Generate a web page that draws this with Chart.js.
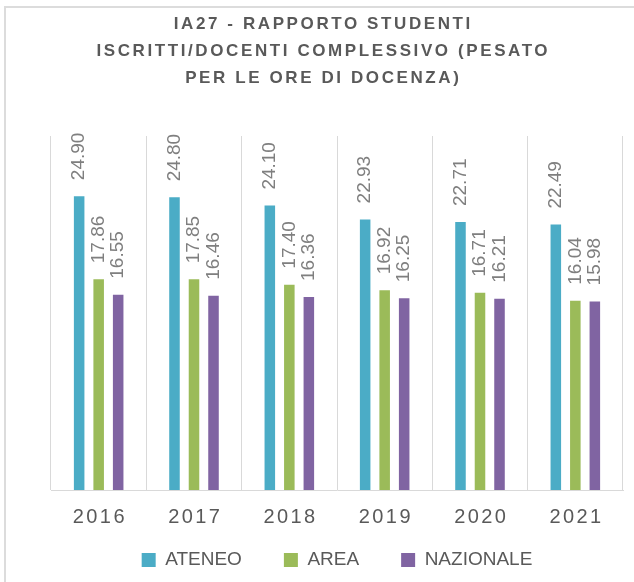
<!DOCTYPE html>
<html><head><meta charset="utf-8">
<script src="https://cdn.jsdelivr.net/npm/chart.js@4.4.0/dist/chart.umd.min.js"></script>
<style>
html,body{margin:0;padding:0;background:#fff;overflow:hidden;}
#wrap{position:relative;width:634px;height:582px;}
#frame{position:absolute;left:4px;top:6px;width:700px;height:700px;border-left:2px solid #dcdcdc;border-top:2px solid #dcdcdc;pointer-events:none;}
</style></head><body>
<div id="wrap"><canvas id="c" width="634" height="582"></canvas><div id="frame"></div></div>
<script>
const categories = ['2016', '2017', '2018', '2019', '2020', '2021'];
const seriesNames = ['ATENEO', 'AREA', 'NAZIONALE'];
const ateneo = [24.90, 24.80, 24.10, 22.93, 22.71, 22.49];
const area = [17.86, 17.85, 17.40, 16.92, 16.71, 16.04];
const nazionale = [16.55, 16.46, 16.36, 16.25, 16.21, 15.98];
const titleLines = ['IA27 - RAPPORTO STUDENTI', 'ISCRITTI/DOCENTI COMPLESSIVO (PESATO', 'PER LE ORE DI DOCENZA)'];
const yMin = 0, yMax = 30;

const colors = ['#4BACC6', '#9BBB59', '#8064A2'];
const FONT = '"Liberation Sans", Arial, sans-serif';

function patchSpacing(obj, m, ls) {
  if (!obj || obj['__p_' + m]) return;
  const orig = obj[m];
  obj[m] = function (...a) {
    const c = this.ctx;
    c.save();
    c.letterSpacing = ls + 'px';
    c.translate(ls / 2, 0);
    const r = orig.apply(this, a);
    c.restore();
    return r;
  };
  obj['__p_' + m] = true;
}

const spacingPlugin = {
  id: 'spacing',
  beforeDraw(chart) {
    patchSpacing(chart.titleBlock, 'draw', 2.6);
    patchSpacing(chart.scales.x, 'drawLabels', 2.4);
  }
};

const LEGEND_BAND = 38;   // vertical room kept for the legend under the axis
const LEGEND_CENTER_Y = 560;

const legendPlace = {
  id: 'legendPlace',
  beforeLayout(chart) {
    const lg = chart.legend;
    if (lg && !lg.__fitPatched) {
      const f = lg.fit;
      lg.fit = function () { f.call(this); this.height = LEGEND_BAND; };
      lg.__fitPatched = true;
    }
  },
  afterLayout(chart) {
    const lg = chart.legend, ca = chart.chartArea;
    if (!lg) return;
    const P = lg.options.labels.padding;
    const fs = lg.options.labels.font.size;
    lg.left = ca.left; lg.right = ca.right; lg.width = ca.right - ca.left;
    lg.top = LEGEND_CENTER_Y - P - fs / 2;
    lg.bottom = chart.height;
    lg.height = lg.bottom - lg.top;
  }
};

const valueLabels = {
  id: 'valueLabels',
  afterDatasetsDraw(chart) {
    const ctx = chart.ctx;
    chart.data.datasets.forEach((ds, i) => {
      const meta = chart.getDatasetMeta(i);
      meta.data.forEach((el, j) => {
        ctx.save();
        ctx.translate(el.x, el.y - 16);
        ctx.rotate(-Math.PI / 2);
        ctx.font = '19px ' + FONT;
        ctx.fillStyle = '#7f7f7f';
        ctx.textAlign = 'left';
        ctx.textBaseline = 'middle';
        ctx.fillText(ds.data[j].toFixed(2), 0, 0);
        ctx.restore();
      });
    });
  }
};

new Chart(document.getElementById('c'), {
  type: 'bar',
  data: {
    labels: categories,
    datasets: [
      { label: seriesNames[0], data: ateneo, backgroundColor: colors[0], borderWidth: 0 },
      { label: seriesNames[1], data: area, backgroundColor: colors[1], borderWidth: 0 },
      { label: seriesNames[2], data: nazionale, backgroundColor: colors[2], borderWidth: 0 }
    ]
  },
  options: {
    responsive: false,
    animation: false,
    devicePixelRatio: 1,
    datasets: { bar: { categoryPercentage: 0.614, barPercentage: 0.54 } },
    layout: { padding: { left: 10, right: 0, top: 0, bottom: 0 } },
    plugins: {
      title: {
        display: true,
        text: titleLines,
        color: '#595959',
        font: { family: FONT, size: 17, weight: 'bold', lineHeight: 27 / 17 },
        padding: { top: 11, bottom: 44 }
      },
      legend: {
        display: true,
        position: 'bottom',
        labels: {
          color: '#595959',
          font: { family: FONT, size: 19 },
          boxWidth: 14,
          boxHeight: 14,
          padding: 42
        }
      },
      tooltip: { enabled: false }
    },
    scales: {
      x: {
        grid: { color: '#d9d9d9', offset: true, drawTicks: false, lineWidth: 1 },
        border: { color: '#d9d9d9', width: 1 },
        ticks: { color: '#595959', font: { family: FONT, size: 20 }, padding: 15 }
      },
      y: {
        min: yMin, max: yMax,
        grid: { display: false },
        border: { display: false },
        ticks: { display: false },
        afterFit: s => { s.width = 41; }
      },
      y2: {
        position: 'right',
        grid: { display: false },
        border: { display: false },
        ticks: { display: false },
        afterFit: s => { s.width = 11; }
      }
    }
  },
  plugins: [spacingPlugin, legendPlace, valueLabels]
});
</script>
</body></html>
